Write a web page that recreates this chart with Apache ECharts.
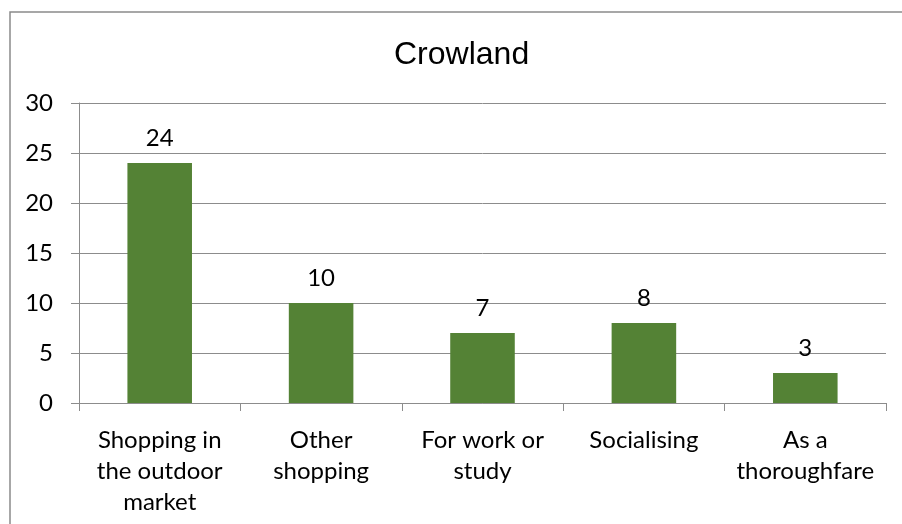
<!DOCTYPE html>
<html>
<head>
<meta charset="utf-8">
<script src="https://cdn.jsdelivr.net/npm/echarts@6/dist/echarts.min.js"></script>
<style>
    html, body { margin: 0; padding: 0; background: #fff; }
    #chart { width: 902px; height: 524px; }
</style>
</head>
<body>
<div id="chart"></div>
<script>
    // data
    const categories = ['Shopping in\nthe outdoor\nmarket', 'Other\nshopping', 'For work or\nstudy', 'Socialising', 'As a\nthoroughfare'];
    const values = [24, 10, 7, 8, 3];
    const yTicks = [0, 5, 10, 15, 20, 25, 30];

    const labelFont = 'Lato, "Noto Sans", sans-serif';
    const gridColor = '#8c8c8c';

    let chart = echarts.init(document.getElementById('chart'));
    let option = {
        animation: false,
        title: {
            text: 'Crowland',
            left: 389,
            top: 34,
            textStyle: {
                fontFamily: '"Liberation Sans", Arial, sans-serif',
                fontWeight: 'normal',
                fontSize: 32,
                color: '#000'
            }
        },
        graphic: [{
            type: 'rect',
            shape: { x: 10, y: 12, width: 1000, height: 600 },
            style: { fill: 'none', stroke: '#8a8a8a', lineWidth: 1.5 },
            silent: true
        }],
        grid: {
            left: 79,
            right: 16,
            top: 103,
            bottom: 121
        },
        xAxis: {
            type: 'category',
            data: categories,
            axisLine: { lineStyle: { color: gridColor, width: 1 } },
            axisTick: { show: true, length: 8, lineStyle: { color: gridColor } },
            axisLabel: {
                interval: 0,
                margin: 22,
                fontFamily: labelFont,
                fontSize: 24,
                lineHeight: 31,
                color: '#000'
            }
        },
        yAxis: {
            type: 'value',
            min: yTicks[0],
            max: yTicks[yTicks.length - 1],
            interval: 5,
            axisLine: { show: true, lineStyle: { color: gridColor, width: 1 } },
            axisTick: { show: true, length: 8, lineStyle: { color: gridColor } },
            splitLine: { lineStyle: { color: gridColor, width: 1 } },
            axisLabel: {
                margin: 26,
                fontFamily: labelFont,
                fontSize: 24,
                color: '#000'
            }
        },
        series: [{
            type: 'bar',
            data: values,
            barWidth: '40%',
            itemStyle: { color: '#548235' },
            label: {
                show: true,
                position: 'top',
                distance: 13,
                fontFamily: labelFont,
                fontSize: 24,
                color: '#000'
            }
        }]
    };
    chart.setOption(option);
    window.addEventListener('resize', function () {
        chart.resize();
    });
</script>
</body>
</html>
